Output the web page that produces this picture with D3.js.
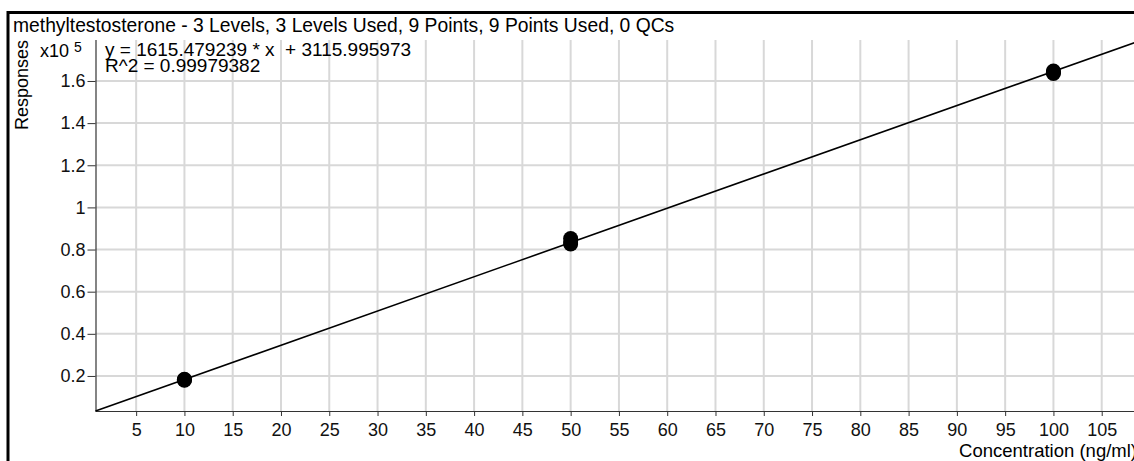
<!DOCTYPE html>
<html><head><meta charset="utf-8">
<script src="https://cdn.jsdelivr.net/npm/d3@7"></script>
<style>body{margin:0;background:#fff}svg{display:block}text{font-family:"Liberation Sans",Arial,sans-serif}</style>
</head><body><svg id="c" width="1134" height="461"></svg>
<script>
const title = "methyltestosterone - 3 Levels, 3 Levels Used, 9 Points, 9 Points Used, 0 QCs";
const equationText = "y = 1615.479239 * x  + 3115.995973";
const r2Text = "R^2 = 0.99979382";
const xTicks = [5,10,15,20,25,30,35,40,45,50,55,60,65,70,75,80,85,90,95,100,105];
const yTicks = [20000,40000,60000,80000,100000,120000,140000,160000];
const yTickLabels = ["0.2","0.4","0.6","0.8","1","1.2","1.4","1.6"];
const pointLevels = [10,10,10,50,50,50,100,100,100];
const pointResponses = [18000,18200,18400,82600,83600,85200,163600,164200,164700];
const fitX = [0.79, 110];
const fitY = [3380, 180819];

const svg = d3.select("#c");
const L = 95.5, B = 411, T = 40;
const x = d3.scaleLinear().domain([0.79, 110]).range([L, L + (110-0.79)*9.6556]);
const y = d3.scaleLinear().domain([3370, 179450]).range([B, T]);
const FONT = '"Liberation Sans",Arial,sans-serif';

// grid
const g = svg.append("g");
g.selectAll(".vg").data(xTicks).join("line")
  .attr("x1", d=>x(d)).attr("x2", d=>x(d)).attr("y1", T).attr("y2", B)
  .attr("stroke", "#d8d8d8").attr("stroke-width", 2);
g.selectAll(".hg").data(yTicks).join("line")
  .attr("x1", L).attr("x2", 1134).attr("y1", d=>y(d)).attr("y2", d=>y(d))
  .attr("stroke", "#d8d8d8").attr("stroke-width", 2);

// axes
const xa = svg.append("g").attr("transform", `translate(0,${B})`)
  .call(d3.axisBottom(x).tickValues(xTicks).tickSize(5).tickPadding(7).tickSizeOuter(0));
const ya = svg.append("g").attr("transform", `translate(${L},0)`)
  .call(d3.axisLeft(y).tickValues(yTicks).tickFormat((d,i)=>yTickLabels[i]).tickSize(8).tickPadding(2).tickSizeOuter(0));
[xa, ya].forEach(a=>{
  a.select(".domain").attr("stroke", "#333").attr("stroke-width", 1.2);
  a.selectAll(".tick line").attr("stroke", "#333");
  a.selectAll("text").attr("font-size", 18).attr("fill", "#111").attr("font-family", FONT);
});
xa.select(".domain").attr("d", `M${L},0.5H1134`);
ya.select(".domain").attr("d", `M0.5,${T}V${B}`);

// fit line
const fit = fitX.map((v,i)=>[v, fitY[i]]);
svg.append("path").datum(fit)
  .attr("d", d3.line().x(d=>x(d[0])).y(d=>y(d[1])))
  .attr("stroke", "#000").attr("stroke-width", 1.6).attr("fill", "none");

// points
svg.selectAll(".pt").data(pointLevels).join("circle")
  .attr("cx", d=>x(d)).attr("cy", (d,i)=>y(pointResponses[i])).attr("r", 7.5).attr("fill", "#000");

// border
svg.append("rect").attr("x", 7).attr("y", 11).attr("width", 1200).attr("height", 3).attr("fill", "#000");
svg.append("rect").attr("x", 6.5).attr("y", 11).attr("width", 3).attr("height", 460).attr("fill", "#000");

// texts
svg.append("text").attr("x", 13).attr("y", 32).attr("font-size", 19.3).attr("fill", "#000").text(title);
svg.append("text").attr("x", 105).attr("y", 56).attr("font-size", 19).attr("fill", "#000").style("white-space","pre").text(equationText);
svg.append("text").attr("x", 105).attr("y", 72).attr("font-size", 19).attr("fill", "#000").text(r2Text);
const xt = svg.append("text").attr("x", 40).attr("y", 57).attr("font-size", 18).attr("fill", "#000");
xt.append("tspan").text("x10 ");
xt.append("tspan").attr("dy", -5).attr("font-size", 14).text("5");
svg.append("text").attr("transform", "translate(28,85) rotate(-90)").attr("text-anchor", "middle")
  .attr("font-size", 18).attr("fill", "#000").text("Responses");
svg.append("text").attr("x", 1137).attr("y", 457).attr("text-anchor", "end")
  .attr("font-size", 18.5).attr("fill", "#000").text("Concentration (ng/ml)");
</script></body></html>
